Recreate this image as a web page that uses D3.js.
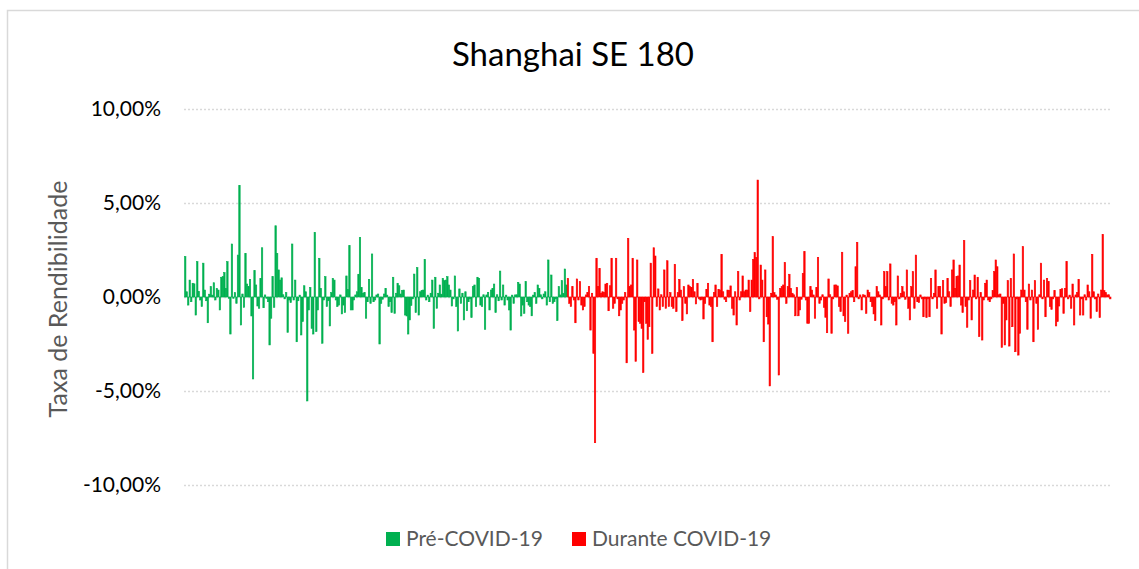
<!DOCTYPE html>
<html>
<head>
<meta charset="utf-8">
<script src="https://cdn.jsdelivr.net/npm/d3@7"></script>
<style>
  body { margin: 0; background: #fff; }
  svg text { font-family: Lato, "Open Sans", sans-serif; }
</style>
</head>
<body>
<script>
// daily returns (%)
var preCovid = [
  0.00, 2.15, 0.28, -0.43, 0.90, -0.25, 0.73, 0.70, -0.96, 1.88, 0.30,
  -0.16, -0.51, 1.80, 0.37, -0.20, -1.37, 0.15, 0.55, 0.10, 0.76, -0.16, 0.45, 0.37, -0.69,
  1.05, 1.08, 1.30, 0.46, 1.88, -0.07, -1.97, 2.82, -0.07, 0.23,
  -0.34, 2.23, 5.94, -1.49, 0.16, -0.55, 2.32, 0.69, 0.55, 0.94,
  -1.01, -4.36, 1.40, 0.64, -0.48, -0.60, 0.99, 2.62, -0.57, 0.11,
  -0.07, -0.25, -2.55, -1.13, 1.08, -0.55, 3.79, 2.32, 1.44, 0.90,
  1.02, 0.12, -0.10, 0.23, -1.88, -0.16, -0.30, 2.82, -0.16, 0.90,
  -2.38, -0.20, 0.10, -2.02, -1.31, 0.60, 0.28, -5.53, -0.69, 0.51,
  -1.67, -1.97, 3.44, -1.84, -0.69, 2.06, 0.46, -2.46, -0.16, 1.08,
  -0.51, -0.20, -1.54, 0.23, 0.99, 0.90, -0.16, -0.51, -0.43, 0.11, -0.90,
  -0.43, -0.83, 1.12, 0.40, 2.73, -0.69, -0.69, -0.16, 0.11, 0.28, 1.21,
  3.16, 0.50, 0.20, 0.23, -1.13, -0.25, 0.94, -0.34, 2.29, -0.25, -0.16,
  0.11, 0.16, -2.50, -0.34, -0.12, 0.16, 0.46, 0.10, -0.51, -0.25,
  -0.83, 1.05, -0.87, 0.20, 0.73, 0.60, 0.16, 0.34, 0.37, -0.96,
  -1.01, -1.97,
  -1.22, -0.45, -0.10, 1.22, -0.83, 1.56, -0.96, 0.28, 0.34, 0.37, 2.00,
  -0.16, 0.10, -0.25, 0.20, 0.90, -1.67, 1.05, -0.60, 0.20, 0.64, 0.15, 0.99,
  0.87, 0.90, 1.08, 0.64, 0.37, -0.48, -0.10, 1.12, -0.51, -1.81,
  0.43, -0.34, 0.20, -1.22, 0.28, -0.73, -0.25, -0.10, -1.10, 0.55,
  0.64, -0.51, 1.05, 0.99, -0.43, -0.51, 0.12, -1.72, 0.11, 0.25,
  -0.69, 0.37, 0.46, 0.69, -0.83, 0.12, -0.20, 1.38, -0.16, 0.64,
  -0.43, 0.10, -0.16, -0.69, -1.76, 0.10, -0.34, 0.11, 0.12, 0.78,
  0.69, -1.01, -0.43, -0.87, 0.82, -0.25, -0.43, -0.51, -1.00, 0.10,
  0.23, -0.34, 0.64, 0.46, 0.12, -0.10, 0.16, 0.28, -0.43, 1.97,
  -0.25, 1.17, -0.34, -0.25, -0.10, -1.26, 0.55, 0.11, 0.87, 0.20,
  1.49, 0.64
];
var duringCovid = [
  0.99, -0.34, -0.51, 0.55, -0.16, -1.37, 0.96, -0.16, 0.82, -0.43,
  -0.69, -0.51, 0.11, 0.23, 0.55, -1.76, 0.20, -3.00, -7.75, 2.06,
  0.55, 1.52, 0.20, 0.28, 0.23, 0.69, 0.73, -0.73, 0.60, 2.06,
  -0.60, -0.34, 2.06, -0.10, -1.00, -0.69, -0.34, -0.16, 0.23, -3.50,
  3.12, 0.55, 0.64, 2.06, -1.76,
  -3.42, 1.97, -1.31, -1.40, -1.67, -4.02, -0.25, -1.40, -2.25, -1.58,
  1.80, -3.00, 2.62, 2.18, -0.51, 0.43, -0.69, 0.12, -0.51, 1.44,
  -0.60, 1.93, -0.51, 0.23, -0.51, -0.60, 1.74, -0.78, 0.23, 0.94,
  0.37, -1.26, 0.55, -0.34, -0.90, 0.64, 0.55, 0.51, 0.94, 0.28,
  -0.37, 0.73, -0.10, -0.16, -0.12, -1.17, -0.34, 0.41, 0.73, -0.43,
  -0.51, -2.38, 0.23, 0.64, -0.51, 0.41, 0.37, 2.27, 0.28, -0.12,
  -0.25, 0.37, 0.34, 0.59, -0.60, -0.96, 0.28, -1.49, 1.35, -0.16,
  0.28, 1.12, 0.28, 0.37,
  0.37, 0.90, -0.78, 0.90, 2.00, 2.36, 2.11, 6.22, -0.10, 1.70,
  0.90, -2.38, 1.44, -1.05, -1.44, -4.73, 0.20, 3.21, 0.23, 0.11,
  -0.12, -4.15, 0.46, 0.55, 0.64, 1.84, -0.34, 0.55, 1.21, 0.46,
  0.20, 0.12, -1.00, 0.51, -1.00, -0.69, -0.12, 1.26, 2.41, -0.16,
  -1.40, -1.40, 0.55, 0.37, 0.11, -1.13, 0.51, 2.11, -0.34, -0.16,
  0.12, -0.55, -1.08, -1.90, 0.96, 0.12, -1.93, -0.10, 0.64, 0.64,
  0.59, -0.51, -0.78, 2.38, -1.00, -1.31, 0.10, -1.93, 0.20, 0.28,
  0.34, -0.25, 1.61, 2.91, -0.10, 0.11,
  -0.69, 0.12, 0.10, -0.87, 0.37, 0.23, -0.25, -0.51, -0.90, -1.26,
  0.55, 0.28, 0.11, -1.49, -0.10, 1.35, 0.55, 1.35, -0.16, 1.76,
  -0.34, -0.43, -0.25, -1.49, 1.12, -0.10, 0.20, 0.55, 0.28, -0.12,
  1.44, -0.60, -1.22, 0.55, 1.35, -0.60, 2.23, -0.25, -0.30, 0.11,
  -0.10, -1.05, -0.10, -1.10, -0.10, -1.05, 0.99, -0.10, 0.20, 1.44,
  -0.60, 0.55, 0.55, -1.97, 0.87, -0.34, -0.30, 0.99, 0.28, -0.51,
  1.44, 1.97, 0.46, 1.08, 1.12, 1.70, -0.43, -0.83, 3.00, -0.51,
  -1.61, -0.16, 0.87, -1.22, 0.37, 1.17, -0.10, 1.05,
  -2.11, 0.23, -2.29, -0.16, 0.73, 0.90, -0.16, -0.25, -0.10, 0.34,
  1.35, 1.97, 1.61, 0.12, 0.16, -2.68, -0.34, -2.55, -1.22, 0.87,
  -2.61, 0.99, -1.58, 2.29, -2.91, -0.10, -3.09, -1.93, 0.37, 2.68,
  0.37, -0.25, -1.72, 0.69, -0.16, 0.37, -2.38, 0.87, -0.34, -1.72,
  0.12, 1.80, -0.10, 0.90, -1.05, 0.99, 0.82, -0.51, -0.66, -0.10,
  0.34, -1.54, -1.31, -0.48, 0.41, 0.44, -0.87, 0.46, 1.88, -0.10,
  0.10, -0.60, 0.69, -1.49, 0.11, 0.23, 0.94, -0.96, -0.10, -0.96,
  0.12, -0.16, 0.64, 0.28, -1.13, 2.27, 0.28, -0.10, -0.78, 0.16,
  -1.10, 0.37, 3.33, 0.34, 0.23, 0.11, 0.12, -0.10
];
var yTicks = [10, 5, 0, -5, -10];
var seriesNames = ['Pré-COVID-19', 'Durante COVID-19'];
var seriesColors = ['#00B050', '#FF0000'];

var width = 1139;
var height = 569;

var rows = preCovid.map((v) => ({v: v, s: 0}))
	.concat(duringCovid.map((v) => ({v: v, s: 1})));
rows.forEach((d, i) => { d.i = i; });

var xScale = d3.scaleBand()
	.domain(rows.map((d) => d.i))
	.range([183, 1111])
	.paddingInner(0.05);
var yScale = d3.scaleLinear()
	.domain([-10, 10])
	.range([485, 109]);

var locale = d3.formatLocale({decimal: ',', thousands: '.', grouping: [3], currency: ['', ''], minus: '-'});
var fmt = locale.format('.2f');

var svg = d3.select('body')
	.append('svg')
	.attr('width', width)
	.attr('height', height);

// chart area border (runs off the bottom / right of the picture)
svg.append('rect')
	.attr('x', 7.5)
	.attr('y', 10.5)
	.attr('width', 1160)
	.attr('height', 600)
	.attr('fill', '#fff')
	.attr('stroke', '#D9D9D9')
	.attr('stroke-width', 1.5);

svg.append('text')
	.attr('x', 573)
	.attr('y', 66)
	.attr('text-anchor', 'middle')
	.attr('font-size', 33)
	.attr('fill', '#000')
	.text('Shanghai SE 180');

// gridlines
svg.append('g')
	.selectAll('line')
	.data(yTicks)
	.enter()
	.append('line')
	.attr('x1', 184)
	.attr('x2', 1112)
	.attr('y1', (d) => Math.round(yScale(d)) + 0.5)
	.attr('y2', (d) => Math.round(yScale(d)) + 0.5)
	.attr('stroke', '#D9D9D9')
	.attr('stroke-width', 1.3)
	.attr('stroke-dasharray', '2,2');

svg.append('g')
	.selectAll('text')
	.data(yTicks)
	.enter()
	.append('text')
	.attr('x', 161)
	.attr('y', (d) => yScale(d))
	.attr('dy', '0.35em')
	.attr('text-anchor', 'end')
	.attr('font-size', 21)
	.attr('fill', '#000')
	.text((d) => fmt(d) + '%');

svg.append('text')
	.attr('transform', 'translate(67,299) rotate(-90)')
	.attr('text-anchor', 'middle')
	.attr('font-size', 25)
	.attr('fill', '#595959')
	.text('Taxa de Rendibilidade');

// columns, outlined in their own colour so they read as solid as in the picture
svg.append('g')
	.selectAll('rect')
	.data(rows)
	.enter()
	.append('rect')
	.attr('x', (d) => xScale(d.i))
	.attr('width', xScale.bandwidth())
	.attr('y', (d) => yScale(Math.max(0, d.v)))
	.attr('height', (d) => Math.abs(yScale(d.v) - yScale(0)))
	.attr('fill', (d) => seriesColors[d.s])
	.attr('stroke', (d) => seriesColors[d.s])
	.attr('stroke-width', 0.6);

// legend
var legendX = [386, 572];
var legend = svg.append('g')
	.selectAll('g')
	.data(seriesNames)
	.enter()
	.append('g')
	.attr('transform', (d, i) => 'translate(' + legendX[i] + ',532)');
legend.append('rect')
	.attr('width', 14)
	.attr('height', 14)
	.attr('fill', (d, i) => seriesColors[i]);
legend.append('text')
	.attr('x', 20)
	.attr('y', 7)
	.attr('dy', '0.35em')
	.attr('font-size', 21)
	.attr('fill', '#595959')
	.text((d) => d);
</script>
</body>
</html>
